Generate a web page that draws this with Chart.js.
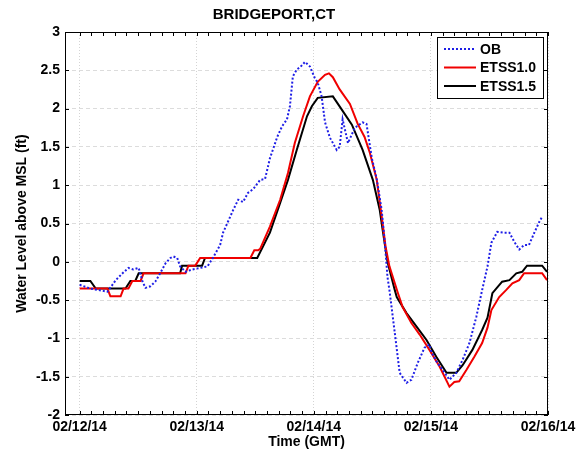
<!DOCTYPE html>
<html>
<head>
<meta charset="utf-8">
<script src="https://cdn.jsdelivr.net/npm/chart.js@4.4.0/dist/chart.umd.min.js"></script>
<style>
  html, body { margin: 0; padding: 0; background: #fff; }
</style>
</head>
<body>
<canvas id="chart" width="587" height="452"></canvas>
<script>
// hours since 02/12/14 00:00 GMT
let xTickHours = [0, 24, 48, 72, 96];
let xTickLabels = ["02/12/14", "02/13/14", "02/14/14", "02/15/14", "02/16/14"];

let seriesNames = ["OB", "ETSS1.0", "ETSS1.5"];

let obHours = [0, 2.2, 5.7, 7.4, 8.8, 10.0, 11.0, 12.1, 12.9, 13.5, 14.5, 15.5, 16.5, 17.6, 18.6, 19.2,
  20.0, 20.6, 21.7, 23.1, 24.7, 26.2, 27.4, 28.8, 29.4, 31.5, 32.5, 33.5, 34.5, 35.6, 37.0, 38.0,
  39.0, 40.5, 41.5, 42.5, 43.1, 43.7, 44.5, 45.2, 46.2, 47.2, 48.2, 48.8, 49.6, 50.3, 51.3, 52.7,
  53.3, 53.9, 55.0, 56.4, 58.0, 58.8, 59.9, 60.9, 61.9, 62.5, 63.1, 63.5, 64.6, 65.6, 67.0, 68.0,
  69.3, 70.7, 71.7, 72.1, 73.3, 74.4, 75.8, 77.2, 78.5, 79.9, 81.3, 82.5, 83.6, 84.4, 85.6, 87.0,
  88.1, 89.1, 90.1, 91.1, 92.1, 93.2, 94.2, 94.8];
let obLevel = [-0.30, -0.35, -0.39, -0.24, -0.15, -0.08, -0.10, -0.08, -0.26, -0.34, -0.32, -0.26, -0.15, -0.02, 0.05, 0.07,
  0.05, -0.06, -0.13, -0.10, -0.08, -0.06, 0.06, 0.22, 0.38, 0.68, 0.81, 0.78, 0.90, 0.95, 1.07, 1.08,
  1.35, 1.63, 1.77, 1.86, 2.03, 2.42, 2.51, 2.54, 2.61, 2.55, 2.40, 2.34, 2.16, 1.82, 1.62, 1.46,
  1.50, 1.86, 1.55, 1.75, 1.82, 1.80, 1.35, 1.08, 0.68, 0.29, -0.20, -0.37, -0.93, -1.45, -1.58, -1.54,
  -1.32, -1.12, -1.08, -1.18, -1.32, -1.41, -1.54, -1.45, -1.28, -1.06, -0.72, -0.37, -0.06, 0.25, 0.39, 0.38,
  0.38, 0.26, 0.16, 0.22, 0.22, 0.38, 0.52, 0.59];

let etss10Hours = [0, 5.7, 6.3, 8.4, 9.0, 10.0, 10.8, 12.5, 13.1, 21.7, 22.3, 23.7, 24.7, 35.0, 35.8, 36.6,
  37.0, 39.0, 41.1, 42.7, 44.1, 45.8, 47.2, 48.8, 50.3, 51.1, 51.9, 53.3, 55.4, 57.0, 58.4, 59.5,
  60.9, 61.9, 62.7, 63.5, 65.2, 66.2, 68.0, 69.7, 71.7, 73.8, 75.8, 76.8, 77.8, 79.3, 80.9, 82.5,
  83.6, 84.4, 86.0, 87.4, 88.7, 90.1, 91.1, 94.8, 95.8];
let etss10Level = [-0.35, -0.35, -0.45, -0.45, -0.35, -0.35, -0.25, -0.25, -0.15, -0.15, -0.05, -0.05, 0.05, 0.05, 0.15, 0.15,
  0.17, 0.46, 0.81, 1.16, 1.55, 1.90, 2.16, 2.35, 2.44, 2.46, 2.41, 2.25, 2.06, 1.80, 1.63, 1.42,
  1.07, 0.60, 0.20, -0.06, -0.40, -0.59, -0.80, -0.95, -1.15, -1.37, -1.63, -1.57, -1.56, -1.41, -1.24, -1.06,
  -0.86, -0.63, -0.46, -0.37, -0.28, -0.24, -0.15, -0.15, -0.24];

let etss15Hours = [0, 2.2, 3.3, 9.4, 10.4, 11.4, 12.1, 20.6, 21.0, 25.1, 25.7, 36.4, 39.0, 41.1, 42.7, 44.5,
  46.6, 47.6, 48.8, 51.9, 53.7, 55.8, 58.0, 60.1, 61.5, 62.1, 63.1, 64.6, 65.0, 67.0, 69.1, 71.1,
  73.1, 75.2, 77.2, 78.5, 80.5, 82.5, 83.6, 84.6, 86.6, 88.1, 89.5, 90.7, 91.7, 94.8, 95.8];
let etss15Level = [-0.25, -0.25, -0.35, -0.35, -0.25, -0.25, -0.15, -0.15, -0.05, -0.05, 0.05, 0.05, 0.38, 0.77, 1.07, 1.46,
  1.90, 2.03, 2.14, 2.16, 1.99, 1.79, 1.46, 1.07, 0.68, 0.42, 0.0, -0.37, -0.46, -0.67, -0.85, -1.02,
  -1.24, -1.45, -1.45, -1.35, -1.15, -0.89, -0.73, -0.41, -0.26, -0.24, -0.15, -0.13, -0.05, -0.05, -0.13];

let fontFamily = "'Liberation Sans', Arial, sans-serif";

function toPoints(xs, ys) {
  let pts = [];
  for (let i = 0; i < xs.length; i++) {
    pts.push({ x: xs[i], y: ys[i] });
  }
  return pts;
}

// black box, inward matlab-style ticks and the legend box
let framePlugin = {
  id: "frame",
  afterDatasetsDraw(chart) {
    let ctx = chart.ctx;
    let area = chart.chartArea;
    let xs = chart.scales.x;
    let ys = chart.scales.y;
    ctx.save();
    ctx.strokeStyle = "#000";
    ctx.lineWidth = 1;
    ctx.strokeRect(area.left + 0.5, area.top + 0.5, area.right - area.left - 1, area.bottom - area.top - 1);

    ctx.beginPath();
    for (let h = 0; h <= 96.01; h += 2.4) {
      let px = Math.round(xs.getPixelForValue(h)) + 0.5;
      ctx.moveTo(px, area.bottom);
      ctx.lineTo(px, area.bottom - 4);
      ctx.moveTo(px, area.top);
      ctx.lineTo(px, area.top + 4);
    }
    for (let v = -2; v <= 3; v += 0.5) {
      let py = Math.round(ys.getPixelForValue(v)) + 0.5;
      ctx.moveTo(area.left, py);
      ctx.lineTo(area.left + 4, py);
      ctx.moveTo(area.right, py);
      ctx.lineTo(area.right - 4, py);
    }
    ctx.stroke();

    // legend
    let bx = 437, by = 37, bw = 106, bh = 61;
    ctx.fillStyle = "#fff";
    ctx.fillRect(bx, by, bw, bh);
    ctx.strokeRect(bx + 0.5, by + 0.5, bw, bh);
    ctx.font = "bold 14px " + fontFamily;
    ctx.textBaseline = "middle";
    ctx.textAlign = "left";
    chart.data.datasets.forEach((ds, i) => {
      let cy = 49 + i * 18.5;
      ctx.beginPath();
      ctx.strokeStyle = ds.borderColor;
      ctx.lineWidth = ds.borderWidth;
      ctx.setLineDash(ds.borderDash || []);
      ctx.moveTo(444, cy);
      ctx.lineTo(476, cy);
      ctx.stroke();
      ctx.setLineDash([]);
      ctx.fillStyle = "#000";
      ctx.fillText(ds.label, 480, cy + 1);
    });
    ctx.restore();
  },
};

let config = {
  type: "line",
  data: {
    datasets: [
      {
        label: seriesNames[0],
        data: toPoints(obHours, obLevel),
        borderColor: "rgb(30, 30, 230)",
        borderWidth: 2,
        borderDash: [2, 2],
      },
      {
        label: seriesNames[1],
        data: toPoints(etss10Hours, etss10Level),
        borderColor: "rgb(240, 0, 0)",
        borderWidth: 2,
      },
      {
        label: seriesNames[2],
        data: toPoints(etss15Hours, etss15Level),
        borderColor: "rgb(0, 0, 0)",
        borderWidth: 2,
      },
    ],
  },
  options: {
    responsive: false,
    animation: false,
    layout: { padding: { left: 0, right: 39, top: 0, bottom: 0 } },
    elements: { point: { radius: 0 }, line: { tension: 0 } },
    plugins: {
      legend: { display: false },
      tooltip: { enabled: false },
      title: {
        display: true,
        text: "BRIDGEPORT,CT",
        color: "#000",
        font: { family: fontFamily, size: 15, weight: "bold" },
        padding: { top: 6, bottom: 8 },
      },
    },
    scales: {
      x: {
        type: "linear",
        min: -3,
        max: 96,
        afterBuildTicks: (scale) => {
          scale.ticks = xTickHours.map((v) => ({ value: v }));
        },
        afterFit: (scale) => {
          scale.height = 37;
        },
        ticks: {
          color: "#000",
          padding: 4,
          maxRotation: 0,
          autoSkip: false,
          font: { family: fontFamily, size: 14, weight: "bold" },
          callback: (value) => xTickLabels[xTickHours.indexOf(value)],
        },
        grid: {
          drawTicks: false,
          color: "#d4d4d4",
          lineWidth: 1,
        },
        border: { display: false, dash: [1, 2] },
        title: {
          display: true,
          text: "Time (GMT)",
          color: "#000",
          font: { family: fontFamily, size: 14, weight: "bold" },
          padding: { top: 0, bottom: 1 },
        },
      },
      y: {
        min: -2,
        max: 3,
        afterFit: (scale) => {
          scale.width = 65;
        },
        ticks: {
          stepSize: 0.5,
          color: "#000",
          padding: 5,
          font: { family: fontFamily, size: 14, weight: "bold" },
          callback: (value) => String(value),
        },
        grid: {
          drawTicks: false,
          color: "#dcdcdc",
          lineWidth: 1,
        },
        border: { display: false, dash: [4, 3] },
        title: {
          display: true,
          text: "Water Level above MSL (ft)",
          color: "#000",
          font: { family: fontFamily, size: 14, weight: "bold" },
          padding: { top: 14, bottom: 0 },
        },
      },
    },
  },
  plugins: [framePlugin],
};

let chart = new Chart(document.getElementById("chart"), config);
</script>
</body>
</html>
